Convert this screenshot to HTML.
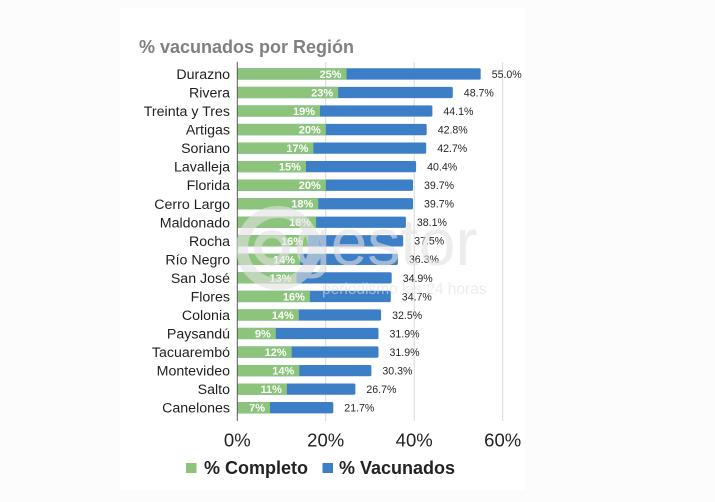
<!DOCTYPE html>
<html><head><meta charset="utf-8"><style>
html,body{margin:0;padding:0;background:#fcfcfc;}
svg{display:block;}
</style></head><body>
<svg width="715" height="502" viewBox="0 0 715 502" xmlns="http://www.w3.org/2000/svg" font-family="Liberation Sans, Arial, sans-serif">
<rect x="0" y="0" width="715" height="502" fill="#fcfcfc"/>
<rect x="120" y="8" width="405" height="482" fill="#ffffff"/>
<text x="139" y="53" font-size="18" font-weight="bold" fill="#808080">% vacunados por Región</text>
<g stroke="#d9d9d9" stroke-width="1">
<line x1="325.7" y1="62" x2="325.7" y2="421"/>
<line x1="414.2" y1="62" x2="414.2" y2="421"/>
<line x1="502.7" y1="62" x2="502.7" y2="421"/>
</g>
<g fill="#3d7fc6">
<rect x="237.3" y="68.3" width="243.4" height="11.3" rx="1.5"/>
<rect x="237.3" y="86.84" width="215.5" height="11.3" rx="1.5"/>
<rect x="237.3" y="105.38" width="195.1" height="11.3" rx="1.5"/>
<rect x="237.3" y="123.92" width="189.4" height="11.3" rx="1.5"/>
<rect x="237.3" y="142.46" width="188.9" height="11.3" rx="1.5"/>
<rect x="237.3" y="161.0" width="178.8" height="11.3" rx="1.5"/>
<rect x="237.3" y="179.54" width="175.7" height="11.3" rx="1.5"/>
<rect x="237.3" y="198.08" width="175.7" height="11.3" rx="1.5"/>
<rect x="237.3" y="216.62" width="168.6" height="11.3" rx="1.5"/>
<rect x="237.3" y="235.16" width="165.9" height="11.3" rx="1.5"/>
<rect x="237.3" y="253.7" width="160.6" height="11.3" rx="1.5"/>
<rect x="237.3" y="272.24" width="154.4" height="11.3" rx="1.5"/>
<rect x="237.3" y="290.78" width="153.5" height="11.3" rx="1.5"/>
<rect x="237.3" y="309.32" width="143.8" height="11.3" rx="1.5"/>
<rect x="237.3" y="327.86" width="141.2" height="11.3" rx="1.5"/>
<rect x="237.3" y="346.4" width="141.2" height="11.3" rx="1.5"/>
<rect x="237.3" y="364.94" width="134.1" height="11.3" rx="1.5"/>
<rect x="237.3" y="383.48" width="118.1" height="11.3" rx="1.5"/>
<rect x="237.3" y="402.02" width="96.0" height="11.3" rx="1.5"/>
</g>
<g fill="#8cc47c">
<rect x="237.3" y="68.3" width="109.3" height="11.3"/>
<rect x="237.3" y="86.84" width="100.9" height="11.3"/>
<rect x="237.3" y="105.38" width="82.7" height="11.3"/>
<rect x="237.3" y="123.92" width="88.5" height="11.3"/>
<rect x="237.3" y="142.46" width="76.1" height="11.3"/>
<rect x="237.3" y="161.0" width="68.6" height="11.3"/>
<rect x="237.3" y="179.54" width="88.5" height="11.3"/>
<rect x="237.3" y="198.08" width="81.0" height="11.3"/>
<rect x="237.3" y="216.62" width="78.8" height="11.3"/>
<rect x="237.3" y="235.16" width="70.8" height="11.3"/>
<rect x="237.3" y="253.7" width="62.8" height="11.3"/>
<rect x="237.3" y="272.24" width="59.3" height="11.3"/>
<rect x="237.3" y="290.78" width="72.6" height="11.3"/>
<rect x="237.3" y="309.32" width="61.5" height="11.3"/>
<rect x="237.3" y="327.86" width="38.5" height="11.3"/>
<rect x="237.3" y="346.4" width="54.4" height="11.3"/>
<rect x="237.3" y="364.94" width="62.0" height="11.3"/>
<rect x="237.3" y="383.48" width="49.6" height="11.3"/>
<rect x="237.3" y="402.02" width="32.7" height="11.3"/>
</g>
<g font-size="11" font-weight="bold" fill="#ffffff" text-anchor="end">
<text x="341.6" y="77.9">25%</text>
<text x="333.2" y="96.4">23%</text>
<text x="315" y="115">19%</text>
<text x="320.8" y="133.5">20%</text>
<text x="308.4" y="152.1">17%</text>
<text x="300.9" y="170.6">15%</text>
<text x="320.8" y="189.2">20%</text>
<text x="313.3" y="207.7">18%</text>
<text x="311.1" y="226.2">18%</text>
<text x="303.1" y="244.8">16%</text>
<text x="295.1" y="263.3">14%</text>
<text x="291.6" y="281.9">13%</text>
<text x="304.9" y="300.4">16%</text>
<text x="293.8" y="318.9">14%</text>
<text x="270.8" y="337.5">9%</text>
<text x="286.7" y="356">12%</text>
<text x="294.3" y="374.6">14%</text>
<text x="281.9" y="393.1">11%</text>
<text x="265" y="411.6">7%</text>
</g>
<g font-size="10.6" fill="#262626">
<text x="491.7" y="77.8">55.0%</text>
<text x="463.8" y="96.3">48.7%</text>
<text x="443.4" y="114.9">44.1%</text>
<text x="437.7" y="133.4">42.8%</text>
<text x="437.2" y="152">42.7%</text>
<text x="427.1" y="170.5">40.4%</text>
<text x="424" y="189.1">39.7%</text>
<text x="424" y="207.6">39.7%</text>
<text x="416.9" y="226.1">38.1%</text>
<text x="414.2" y="244.7">37.5%</text>
<text x="408.9" y="263.2">36.3%</text>
<text x="402.7" y="281.8">34.9%</text>
<text x="401.8" y="300.3">34.7%</text>
<text x="392.1" y="318.8">32.5%</text>
<text x="389.5" y="337.4">31.9%</text>
<text x="389.5" y="355.9">31.9%</text>
<text x="382.4" y="374.5">30.3%</text>
<text x="366.4" y="393">26.7%</text>
<text x="344.3" y="411.5">21.7%</text>
</g>
<g font-size="14.2" fill="#1f1f1f" text-anchor="end">
<text x="230" y="79">Durazno</text>
<text x="230" y="97.5">Rivera</text>
<text x="230" y="116.1">Treinta y Tres</text>
<text x="230" y="134.6">Artigas</text>
<text x="230" y="153.2">Soriano</text>
<text x="230" y="171.7">Lavalleja</text>
<text x="230" y="190.2">Florida</text>
<text x="230" y="208.8">Cerro Largo</text>
<text x="230" y="227.3">Maldonado</text>
<text x="230" y="245.9">Rocha</text>
<text x="230" y="264.4">Río Negro</text>
<text x="230" y="282.9">San José</text>
<text x="230" y="301.5">Flores</text>
<text x="230" y="320">Colonia</text>
<text x="230" y="338.6">Paysandú</text>
<text x="230" y="357.1">Tacuarembó</text>
<text x="230" y="375.6">Montevideo</text>
<text x="230" y="394.2">Salto</text>
<text x="230" y="412.7">Canelones</text>
</g>
<line x1="237.3" y1="62" x2="237.3" y2="421" stroke="#595959" stroke-width="1"/>
<g font-size="18.5" fill="#222" text-anchor="middle">
<text x="237.3" y="446.7">0%</text>
<text x="325.7" y="446.7">20%</text>
<text x="414.2" y="446.7">40%</text>
<text x="502.7" y="446.7">60%</text>
</g>
<rect x="186" y="463" width="10.5" height="10" fill="#8cc47c"/>
<text x="204" y="474" font-size="18" font-weight="bold" fill="#222">% Completo</text>
<rect x="322.5" y="463" width="10.5" height="10" fill="#3d7fc6"/>
<text x="339" y="474" font-size="18" font-weight="bold" fill="#222">% Vacunados</text>
<g opacity="0.6" fill="#e2e2e2">
<circle cx="278" cy="248" r="36" fill="none" stroke="#e2e2e2" stroke-width="12"/>
<circle cx="272" cy="248" r="14" fill="none" stroke="#e2e2e2" stroke-width="8"/>
<text x="294" y="265" font-size="66">gestor</text>
<text x="322" y="294" font-size="15.5">periodismo las 24 horas</text>
</g>
</svg>
</body></html>
